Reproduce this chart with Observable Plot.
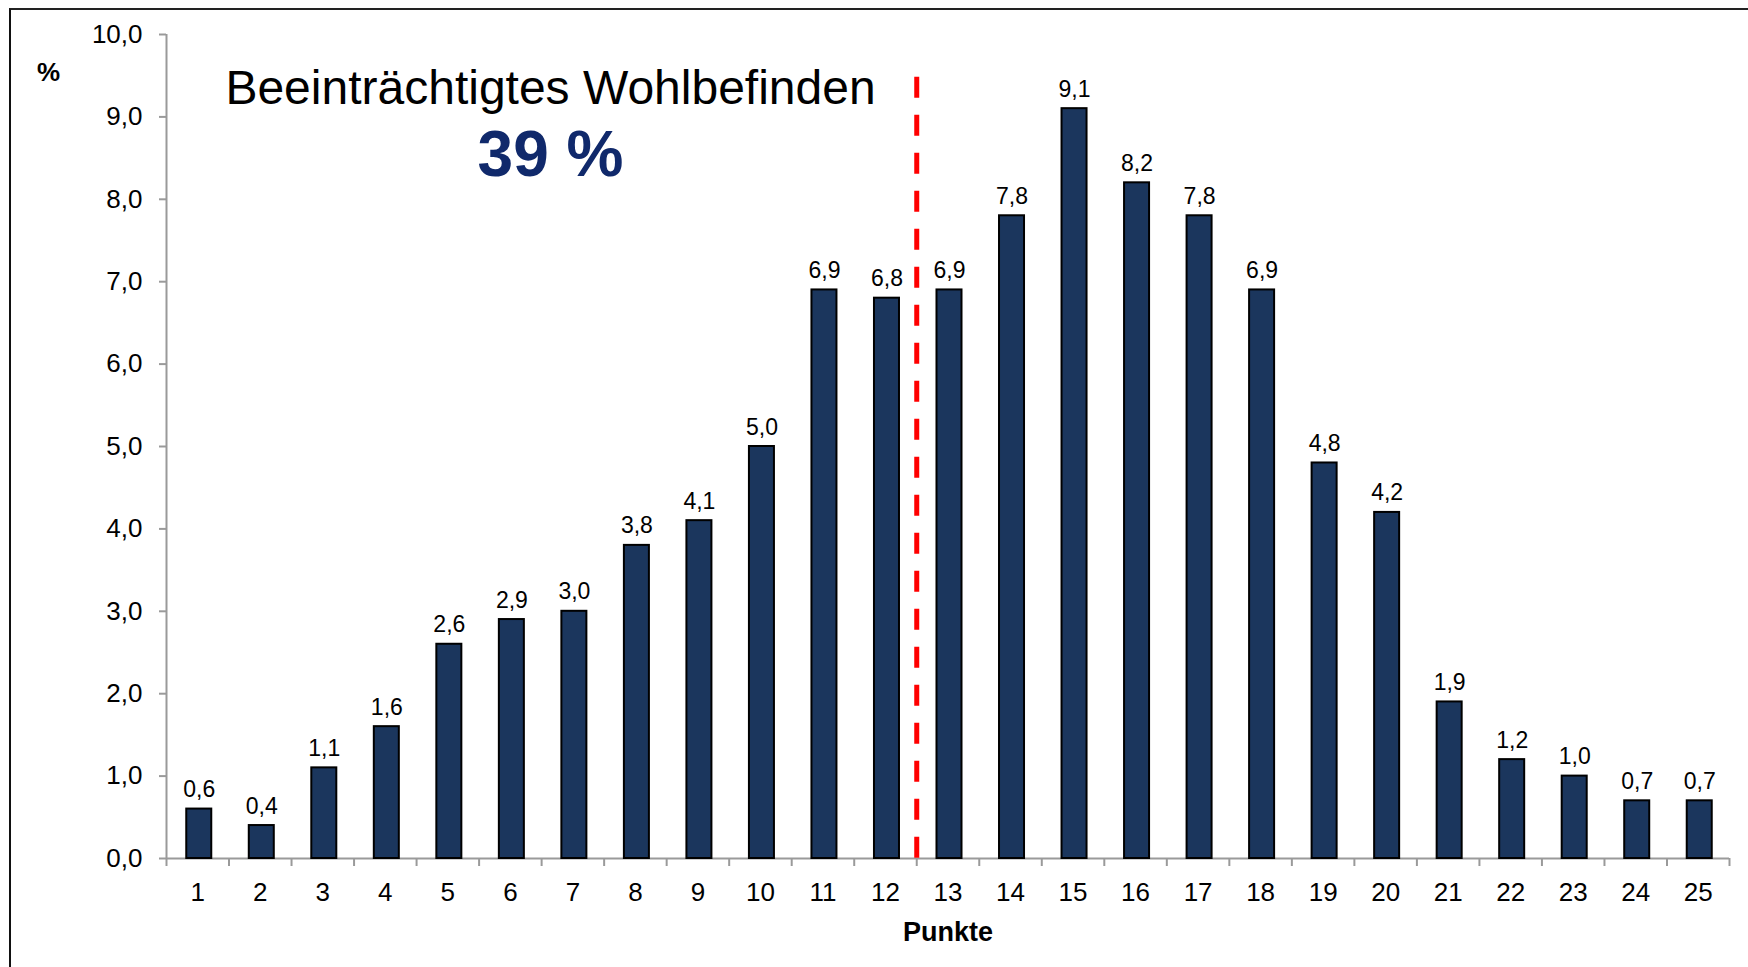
<!DOCTYPE html>
<html><head><meta charset="utf-8">
<script src="https://cdn.jsdelivr.net/npm/d3@7"></script>
<script src="https://cdn.jsdelivr.net/npm/@observablehq/plot@0.6"></script>
<style>
body{margin:0;background:#fff;}
#wrap{position:relative;width:1748px;height:967px;overflow:hidden;background:#fff;}
#frame{position:absolute;left:9px;top:8px;right:-10px;bottom:-10px;border-top:2px solid #222;border-left:2px solid #111;pointer-events:none;}
</style></head><body>
<div id="wrap"><div id="frame"></div></div>
<script>
// ---- data ----
const punkte = [1,2,3,4,5,6,7,8,9,10,11,12,13,14,15,16,17,18,19,20,21,22,23,24,25];
const anteil = [0.6,0.4,1.1,1.6,2.6,2.9,3.0,3.8,4.1,5.0,6.9,6.8,6.9,7.8,9.1,8.2,7.8,6.9,4.8,4.2,1.9,1.2,1.0,0.7,0.7];
const yTicks = [0,1,2,3,4,5,6,7,8,9,10];
const cutoff = 12.5;            // between 12 and 13 Punkte
const cutoffTop = 9.48;         // top end of the dashed line (%)
const titleText = "Beeinträchtigtes Wohlbefinden";
const shareText = "39 %";
const xLabel = "Punkte";
const yLabel = "%";

const rows = punkte.map((p, i) => ({punkte: p, anteil: anteil[i]}));
const xDomain = [punkte[0] - 0.5, punkte[punkte.length - 1] + 0.5];
const boundaries = [xDomain[0], ...punkte.map(p => p + 0.5)];
const fmt = v => v.toFixed(1).replace(".", ",");
const halfBar = 0.2;

const chart = Plot.plot({
  width: 1748,
  height: 967,
  marginLeft: 166,
  marginRight: 19,
  marginTop: 34,
  marginBottom: 109,
  style: {fontFamily: "'Liberation Sans', Arial, sans-serif", background: "white", color: "black"},
  x: {type: "linear", domain: xDomain},
  y: {domain: [0, 10]},
  marks: [
    // axis lines
    Plot.ruleY([0], {stroke: "#9a9a9a", strokeWidth: 2}),
    Plot.ruleX([xDomain[0]], {y1: 0, y2: 10, stroke: "#9a9a9a", strokeWidth: 2}),
    // y axis
    Plot.axisY({ticks: yTicks, tickFormat: fmt, tickSize: 7, tickPadding: 17,
      stroke: "#9a9a9a", strokeWidth: 2, fill: "black", fontSize: 26, label: null}),
    // x axis: tick marks at category boundaries
    Plot.axisX({ticks: boundaries, tickFormat: () => "", tickSize: 8,
      stroke: "#9a9a9a", strokeWidth: 2, label: null}),
    // x axis: labels at category centres
    Plot.axisX({ticks: punkte, tickFormat: d => String(d), tickSize: 0, tickPadding: 24,
      fill: "black", fontSize: 26, label: null}),
    // bars
    Plot.rectY(rows, {x1: d => d.punkte - halfBar, x2: d => d.punkte + halfBar, y1: 0, y2: "anteil",
      fill: "#1b365d", stroke: "black", strokeWidth: 2, dx: 1.5}),
    // value labels
    Plot.text(rows, {x: "punkte", y: "anteil", text: d => fmt(d.anteil),
      lineAnchor: "bottom", dy: -12, dx: 1.5, fontSize: 23, fill: "black"}),
    // cutoff line
    Plot.ruleX([cutoff], {y1: cutoffTop, y2: 0, stroke: "#ff0000", strokeWidth: 5, strokeDasharray: "21,17"}),
    // axis titles
    Plot.text([xLabel], {frameAnchor: "bottom", text: d => d, lineAnchor: "bottom", dy: 82,
      fontSize: 27, fontWeight: "bold", fill: "black"}),
    Plot.text([yLabel], {frameAnchor: "top-left", text: d => d, lineAnchor: "bottom", textAnchor: "middle",
      dx: -118, dy: 46, fontSize: 26, fontWeight: "bold", fill: "black"}),
    // annotation
    Plot.text([titleText], {frameAnchor: "top-left", text: d => d, lineAnchor: "bottom", textAnchor: "middle",
      dx: 384, dy: 69, fontSize: 48, fill: "black"}),
    Plot.text([shareText], {frameAnchor: "top-left", text: d => d, lineAnchor: "bottom", textAnchor: "middle",
      dx: 384, dy: 141, fontSize: 64, fontWeight: "bold", fill: "#10296b"})
  ]
});
document.getElementById("wrap").insertBefore(chart, document.getElementById("frame"));
</script>
</body></html>
